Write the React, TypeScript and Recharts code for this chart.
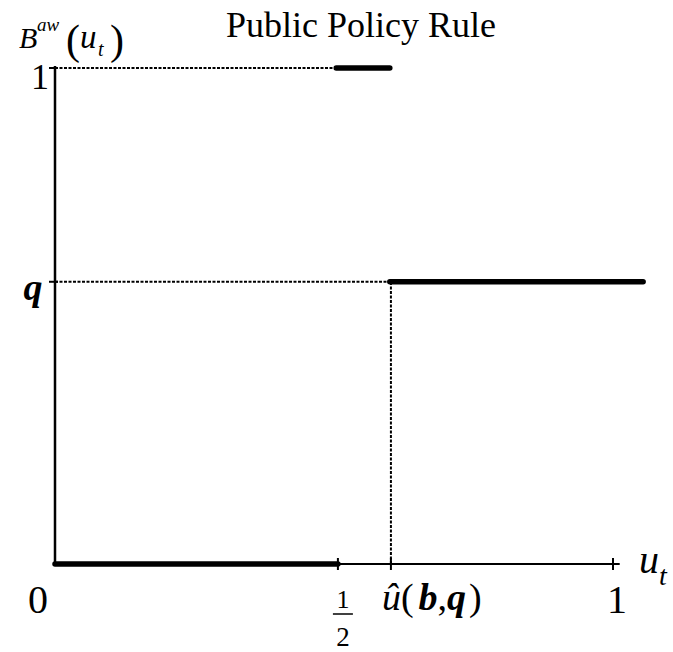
import React from "react";
import { LineChart, Line, XAxis, YAxis, ReferenceLine, Label } from "recharts";

// step-function pieces of the public policy rule, u_t on x, B^aw on y
const HALF = 0.507;
const U_HAT = 0.602;
const Q_LEVEL = 0.569;

const lowU = [0, 0.507];
const lowB = [0, 0];
const topU = [0.504, 0.6];
const topB = [1, 1];
const qU = [0.6, 1.054];
const qB = [Q_LEVEL, Q_LEVEL];

// dashed guides
const guideTopU = [0, 0.504];
const guideTopB = [1, 1];
const guideQU = [0, U_HAT];
const guideQB = [Q_LEVEL, Q_LEVEL];
const guideVertU = [U_HAT, U_HAT];
const guideVertB = [0, Q_LEVEL];

const xTicks = [0, HALF, U_HAT, 1];
const yTicks = [Q_LEVEL, 1];

const X_MAX = 593 / 558;
const FONT = "'Liberation Serif', 'Times New Roman', serif";

const pts = (xs: number[], ys: number[]) => xs.map((u, i) => ({ u, b: ys[i] }));

function XTick(props: any) {
  const { x, y, payload } = props;
  const v = payload.value;
  const mark =
    v > 0 ? <line x1={x} x2={x} y1={y - 6} y2={y + 6} stroke="#000" strokeWidth={2} /> : null;
  let label: React.ReactNode = null;
  if (v === 0) {
    label = (
      <text x={x - 17} y={y + 49} textAnchor="middle" fontSize={40}>
        0
      </text>
    );
  } else if (v === HALF) {
    label = (
      <g>
        <text x={x + 5} y={y + 44} textAnchor="middle" fontSize={26}>
          1
        </text>
        <line x1={x - 5} x2={x + 15} y1={y + 50} y2={y + 50} stroke="#000" strokeWidth={1.5} />
        <text x={x + 5} y={y + 82} textAnchor="middle" fontSize={27}>
          2
        </text>
      </g>
    );
  } else if (v === U_HAT) {
    label = (
      <text x={x - 9} y={y + 46} fontSize={38}>
        <tspan fontStyle="italic">û</tspan>
        <tspan>(</tspan>
        <tspan dx={5} fontStyle="italic" fontWeight="bold">b</tspan>
        <tspan>,</tspan>
        <tspan fontStyle="italic" fontWeight="bold">q</tspan>
        <tspan dx={3}>)</tspan>
      </text>
    );
  } else {
    label = (
      <text x={x + 4} y={y + 49} textAnchor="middle" fontSize={40}>
        1
      </text>
    );
  }
  return (
    <g fontFamily={FONT} fill="#000">
      {mark}
      {label}
    </g>
  );
}

function YTick(props: any) {
  const { x, y, payload } = props;
  const v = payload.value;
  return (
    <g fontFamily={FONT} fill="#000">
      <line x1={x - 6} x2={x + 3} y1={y} y2={y} stroke="#000" strokeWidth={2} />
      {v === 1 ? (
        <text x={x - 15} y={y + 21} textAnchor="middle" fontSize={36}>
          1
        </text>
      ) : (
        <text x={x - 22} y={y + 18} textAnchor="middle" fontSize={38} fontStyle="italic" fontWeight="bold">
          q
        </text>
      )}
    </g>
  );
}

function XName() {
  return (
    <text x={639} y={573} fontFamily={FONT} fontStyle="italic" fill="#000">
      <tspan fontSize={40}>u</tspan>
      <tspan fontSize={28} dy={12}>t</tspan>
    </text>
  );
}

function Titles() {
  return (
    <g fontFamily={FONT} fill="#000">
      <text x={361} y={37} textAnchor="middle" fontSize={36}>
        Public Policy Rule
      </text>
      <text x={19} y={48} fontSize={30} fontStyle="italic">
        B
      </text>
      <text x={37} y={31} fontSize={19} fontStyle="italic">
        aw
      </text>
      <text x={66} y={54} fontSize={42}>
        (
      </text>
      <text x={80} y={48} fontSize={33} fontStyle="italic">
        u
      </text>
      <text x={98} y={56} fontSize={20} fontStyle="italic">
        t
      </text>
      <text x={110} y={54} fontSize={42}>
        )
      </text>
    </g>
  );
}

export default function App() {
  return (
    <div style={{ position: "absolute", left: 0, top: 0, background: "#fff" }}>
      <LineChart width={673} height={652} margin={{ top: 68, right: 25, bottom: 68, left: 35 }}>
        <XAxis
          type="number"
          dataKey="u"
          domain={[0, X_MAX]}
          ticks={xTicks}
          interval={0}
          height={20}
          axisLine={false}
          tickLine={false}
          tickSize={0}
          tickMargin={0}
          tick={<XTick />}
        >
          <Label content={<XName />} />
        </XAxis>
        <YAxis
          type="number"
          dataKey="b"
          domain={[0, 1]}
          ticks={yTicks}
          interval={0}
          width={20}
          axisLine={false}
          tickLine={false}
          tickSize={0}
          tickMargin={0}
          tick={<YTick />}
        >
          <Label content={<Titles />} />
        </YAxis>

        <ReferenceLine
          segment={[{ x: 0, y: 0 }, { x: 1.012, y: 0 }]}
          stroke="#000"
          strokeWidth={2}
          ifOverflow="visible"
        />
        <ReferenceLine
          segment={[{ x: 0, y: 0 }, { x: 0, y: 1.004 }]}
          stroke="#000"
          strokeWidth={2.5}
          ifOverflow="visible"
        />

        <Line data={pts(guideTopU, guideTopB)} dataKey="b" stroke="#000" strokeWidth={2} strokeDasharray="3 1.5" dot={false} isAnimationActive={false} />
        <Line data={pts(guideQU, guideQB)} dataKey="b" stroke="#000" strokeWidth={2} strokeDasharray="3 1.5" dot={false} isAnimationActive={false} />
        <Line data={pts(guideVertU, guideVertB)} dataKey="b" stroke="#000" strokeWidth={2} strokeDasharray="3 1.5" dot={false} isAnimationActive={false} />

        <Line data={pts(lowU, lowB)} dataKey="b" stroke="#000" strokeWidth={5.5} strokeLinecap="round" dot={false} isAnimationActive={false} />
        <Line data={pts(topU, topB)} dataKey="b" stroke="#000" strokeWidth={5.5} strokeLinecap="round" dot={false} isAnimationActive={false} />
        <Line data={pts(qU, qB)} dataKey="b" stroke="#000" strokeWidth={5.5} strokeLinecap="round" dot={false} isAnimationActive={false} />
      </LineChart>
    </div>
  );
}
